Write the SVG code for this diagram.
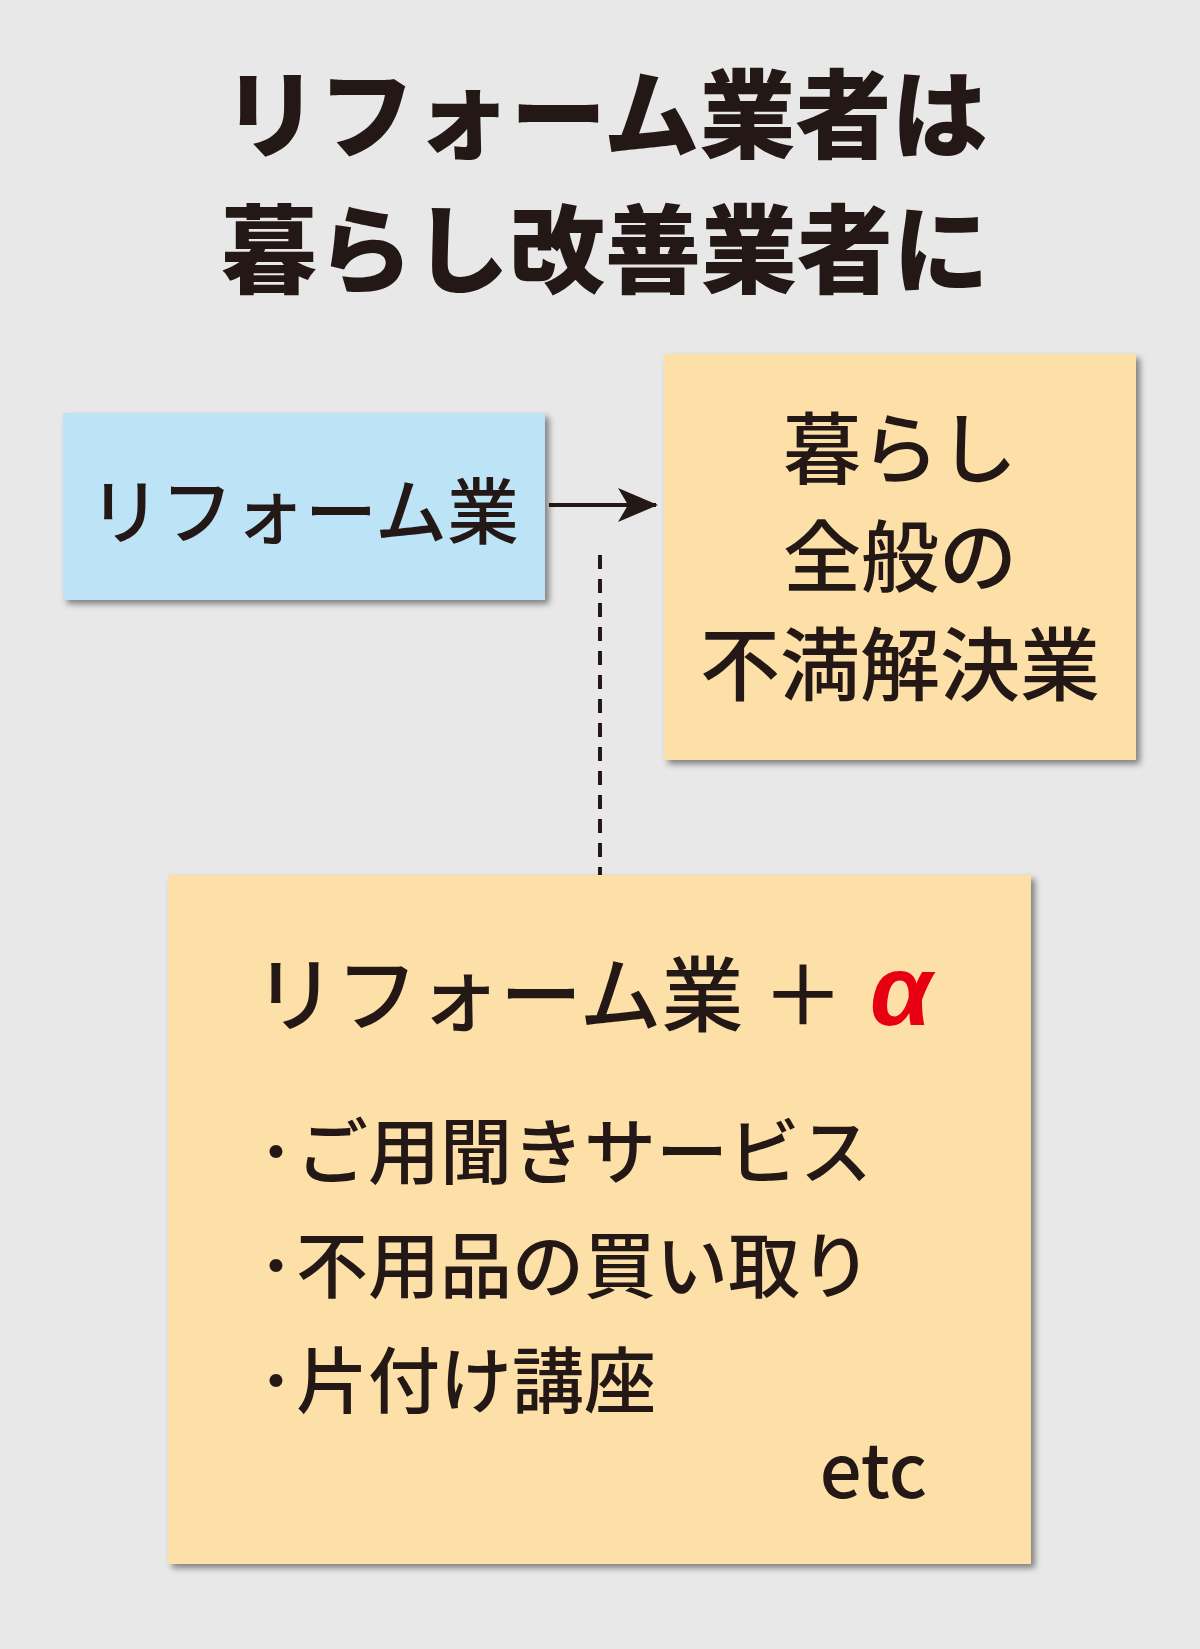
<svg xmlns="http://www.w3.org/2000/svg" width="1200" height="1649" viewBox="0 0 1200 1649">
<style>
.t{font-family:"Noto Sans CJK JP","Noto Sans",sans-serif;fill:#231815;font-weight:500}
.title{font-size:96px;font-weight:900;text-anchor:middle}
.li{font-size:72px}
</style>
<defs>
<filter id="sh" x="-5%" y="-5%" width="115%" height="115%">
<feDropShadow dx="4" dy="4" stdDeviation="3" flood-color="#000" flood-opacity="0.45"/>
</filter>
<marker id="ah" markerWidth="40" markerHeight="34" refX="38" refY="17" orient="auto" markerUnits="userSpaceOnUse">
<path d="M0,0 L40,17 L0,34 L10,17 Z" fill="#231815"/>
</marker>
</defs>
<rect width="1200" height="1649" fill="#e8e8e8"/>
<g id="title">
<text class="t title" x="605" y="150">リフォーム業者は</text>
<text class="t title" x="605" y="285">暮らし改善業者に</text>
</g>
<g id="connectors">
<line x1="549" y1="505" x2="656" y2="505" stroke="#231815" stroke-width="4" marker-end="url(#ah)"/>
<line x1="600" y1="555" x2="600" y2="875" stroke="#231815" stroke-width="4" stroke-dasharray="14,10"/>
</g>
<g id="reform">
<rect x="63" y="413" width="482" height="187" fill="#bde3f6" filter="url(#sh)"/>
<text class="t" x="304" y="538" font-size="72" text-anchor="middle">リフォーム業</text>
</g>
<g id="kurashi">
<rect x="664" y="354" width="472" height="406" fill="#fde0a8" filter="url(#sh)"/>
<text class="t" x="900" y="478" font-size="78" text-anchor="middle">暮らし</text>
<text class="t" x="900" y="586" font-size="78" text-anchor="middle">全般の</text>
<text class="t" x="900" y="694" font-size="80" text-anchor="middle">不満解決業</text>
</g>
<g id="plus">
<rect x="168" y="875" width="863" height="689" fill="#fde0a8" filter="url(#sh)"/>
<text class="t" x="254" y="1025" font-size="82">リフォーム業 ＋</text>
<text x="870" y="1025" font-size="100" fill="#e60012" font-style="italic" font-weight="bold" font-family="Liberation Sans, sans-serif">α</text>
<text class="t li" x="258" y="1178">･</text><text class="t li" x="296" y="1178">ご用聞きサービス</text>
<text class="t li" x="258" y="1292" >･</text><text class="t li" x="296" y="1292">不用品の買い取り</text>
<text class="t li" x="258" y="1407">･</text><text class="t li" x="296" y="1407">片付け講座</text>
<text class="t" x="927" y="1498" font-size="74" text-anchor="end" font-family="Liberation Sans, sans-serif">etc</text>
</g>
</svg>
